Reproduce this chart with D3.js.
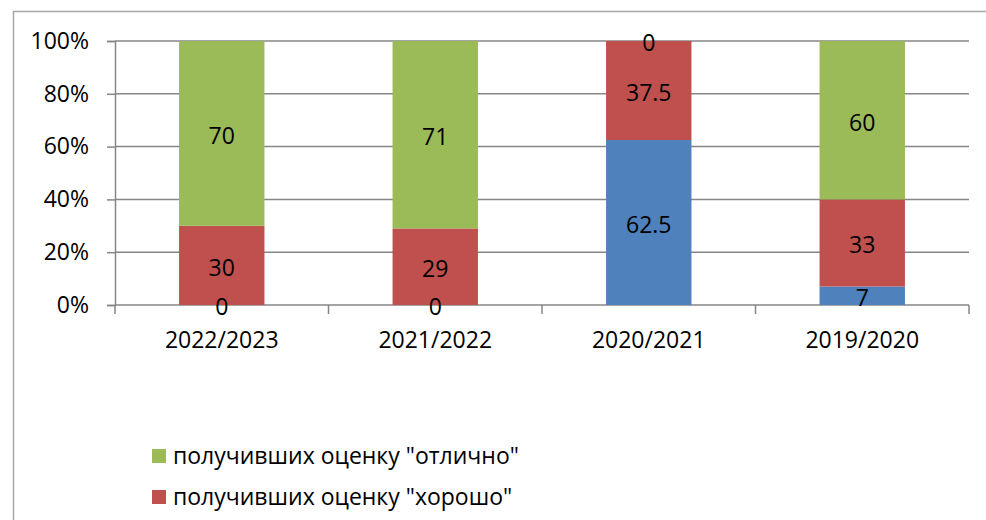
<!DOCTYPE html>
<html>
<head>
<meta charset="utf-8">
<script src="https://cdn.jsdelivr.net/npm/d3@7"></script>
<style>
  body { margin: 0; background: #fff; }
  svg { display: block; font-family: "Open Sans", sans-serif; }
</style>
</head>
<body>
<div id="chart"></div>
<script>
// data
var years = ["2022/2023", "2021/2022", "2020/2021", "2019/2020"];
var seriesNames = ["получивших оценку \"удовлетворительно\"", "получивших оценку \"хорошо\"", "получивших оценку \"отлично\""];
var blueVals = [0, 0, 62.5, 7];
var redVals = [30, 29, 37.5, 33];
var greenVals = [70, 71, 0, 60];
var yTicks = [0, 20, 40, 60, 80, 100];

var colors = ["#4f81bd", "#c0504d", "#9bbb59"];

var width = 986, height = 520;
var margin = {left: 115, right: 17, top: 41, bottom: 215};
var fs = 23;

var svg = d3.select("#chart")
    .append("svg")
    .attr("width", width)
    .attr("height", height);

// outer frame (only top and left edges visible)
svg.append("path")
    .attr("d", "M13.5,520 L13.5,11.5 L986,11.5")
    .attr("fill", "none")
    .attr("stroke", "#a6a6a6")
    .attr("stroke-width", 1.5);

var table = years.map(function(y, i){
    return {year: y, s0: blueVals[i], s1: redVals[i], s2: greenVals[i]};
});
var stack = d3.stack().keys(["s0", "s1", "s2"]);
var layers = stack(table);

var x = d3.scaleBand()
    .domain(years)
    .range([margin.left, width - margin.right])
    .paddingInner(0.6)
    .paddingOuter(0.3);

var y = d3.scaleLinear()
    .domain([0, 100])
    .range([height - margin.bottom, margin.top]);

// gridlines + y axis
var yAxis = svg.append("g")
    .attr("transform", "translate(" + margin.left + ",0)")
    .call(d3.axisLeft(y)
        .tickValues(yTicks)
        .tickSize(8)
        .tickFormat(function(d){ return d + "%"; }));
yAxis.select(".domain").attr("stroke", "#868686").attr("stroke-width", 1.5);
yAxis.selectAll(".tick line").attr("stroke", "#868686").attr("stroke-width", 1.5);
yAxis.selectAll(".tick text")
    .attr("x", -26)
    .attr("font-size", fs)
    .attr("fill", "#000")
    .attr("font-family", "Open Sans, sans-serif");

svg.append("g")
    .selectAll("line")
    .data(yTicks.filter(function(d){ return d > 0; }))
    .enter()
    .append("line")
    .attr("x1", margin.left)
    .attr("x2", width - margin.right)
    .attr("y1", function(d){ return y(d); })
    .attr("y2", function(d){ return y(d); })
    .attr("stroke", "#868686")
    .attr("stroke-width", 1.5);

// x axis with ticks between categories
var xAxis = svg.append("g")
    .attr("transform", "translate(0," + y(0) + ")");
xAxis.append("line")
    .attr("x1", margin.left)
    .attr("x2", width - margin.right)
    .attr("stroke", "#868686")
    .attr("stroke-width", 1.5);
var bounds = d3.range(years.length + 1).map(function(i){
    return margin.left + i * (width - margin.left - margin.right) / years.length;
});
xAxis.selectAll(".xt")
    .data(bounds)
    .enter()
    .append("line")
    .attr("class", "xt")
    .attr("x1", function(d){ return d; })
    .attr("x2", function(d){ return d; })
    .attr("y1", 0)
    .attr("y2", 9)
    .attr("stroke", "#868686")
    .attr("stroke-width", 1.5);
xAxis.selectAll(".xl")
    .data(years)
    .enter()
    .append("text")
    .attr("class", "xl")
    .attr("x", function(d){ return x(d) + x.bandwidth() / 2; })
    .attr("y", 43)
    .attr("text-anchor", "middle")
    .attr("font-size", fs)
    .text(function(d){ return d; });

// bars
var groups = svg.append("g")
    .selectAll("g")
    .data(layers)
    .enter()
    .append("g")
    .attr("fill", function(d, i){ return colors[i]; });

groups.selectAll("rect")
    .data(function(d){ return d; })
    .enter()
    .append("rect")
    .attr("x", function(d){ return x(d.data.year); })
    .attr("width", x.bandwidth())
    .attr("y", function(d){ return y(d[1]); })
    .attr("height", function(d){ return y(d[0]) - y(d[1]); });

// value labels
var labels = svg.append("g");
layers.forEach(function(layer){
    layer.forEach(function(d){
        var v = d[1] - d[0];
        labels.append("text")
            .attr("x", x(d.data.year) + x.bandwidth() / 2)
            .attr("y", (y(d[0]) + y(d[1])) / 2)
            .attr("dy", "0.45em")
            .attr("text-anchor", "middle")
            .attr("font-size", fs)
            .attr("fill", "#000")
            .text(v);
    });
});

// legend: series in reverse order; the blue entry sits below the visible frame
var legendItems = seriesNames.slice(1).reverse();
var legend = svg.append("g")
    .selectAll("g")
    .data(legendItems)
    .enter()
    .append("g")
    .attr("transform", function(d, i){ return "translate(152," + (449 + i * 41) + ")"; });
legend.append("rect")
    .attr("width", 14)
    .attr("height", 14)
    .attr("fill", function(d, i){ return colors[colors.length - 1 - i]; });
legend.append("text")
    .attr("x", 21)
    .attr("y", 7)
    .attr("dy", "0.35em")
    .attr("font-size", fs)
    .text(function(d){ return d; });
</script>
</body>
</html>
